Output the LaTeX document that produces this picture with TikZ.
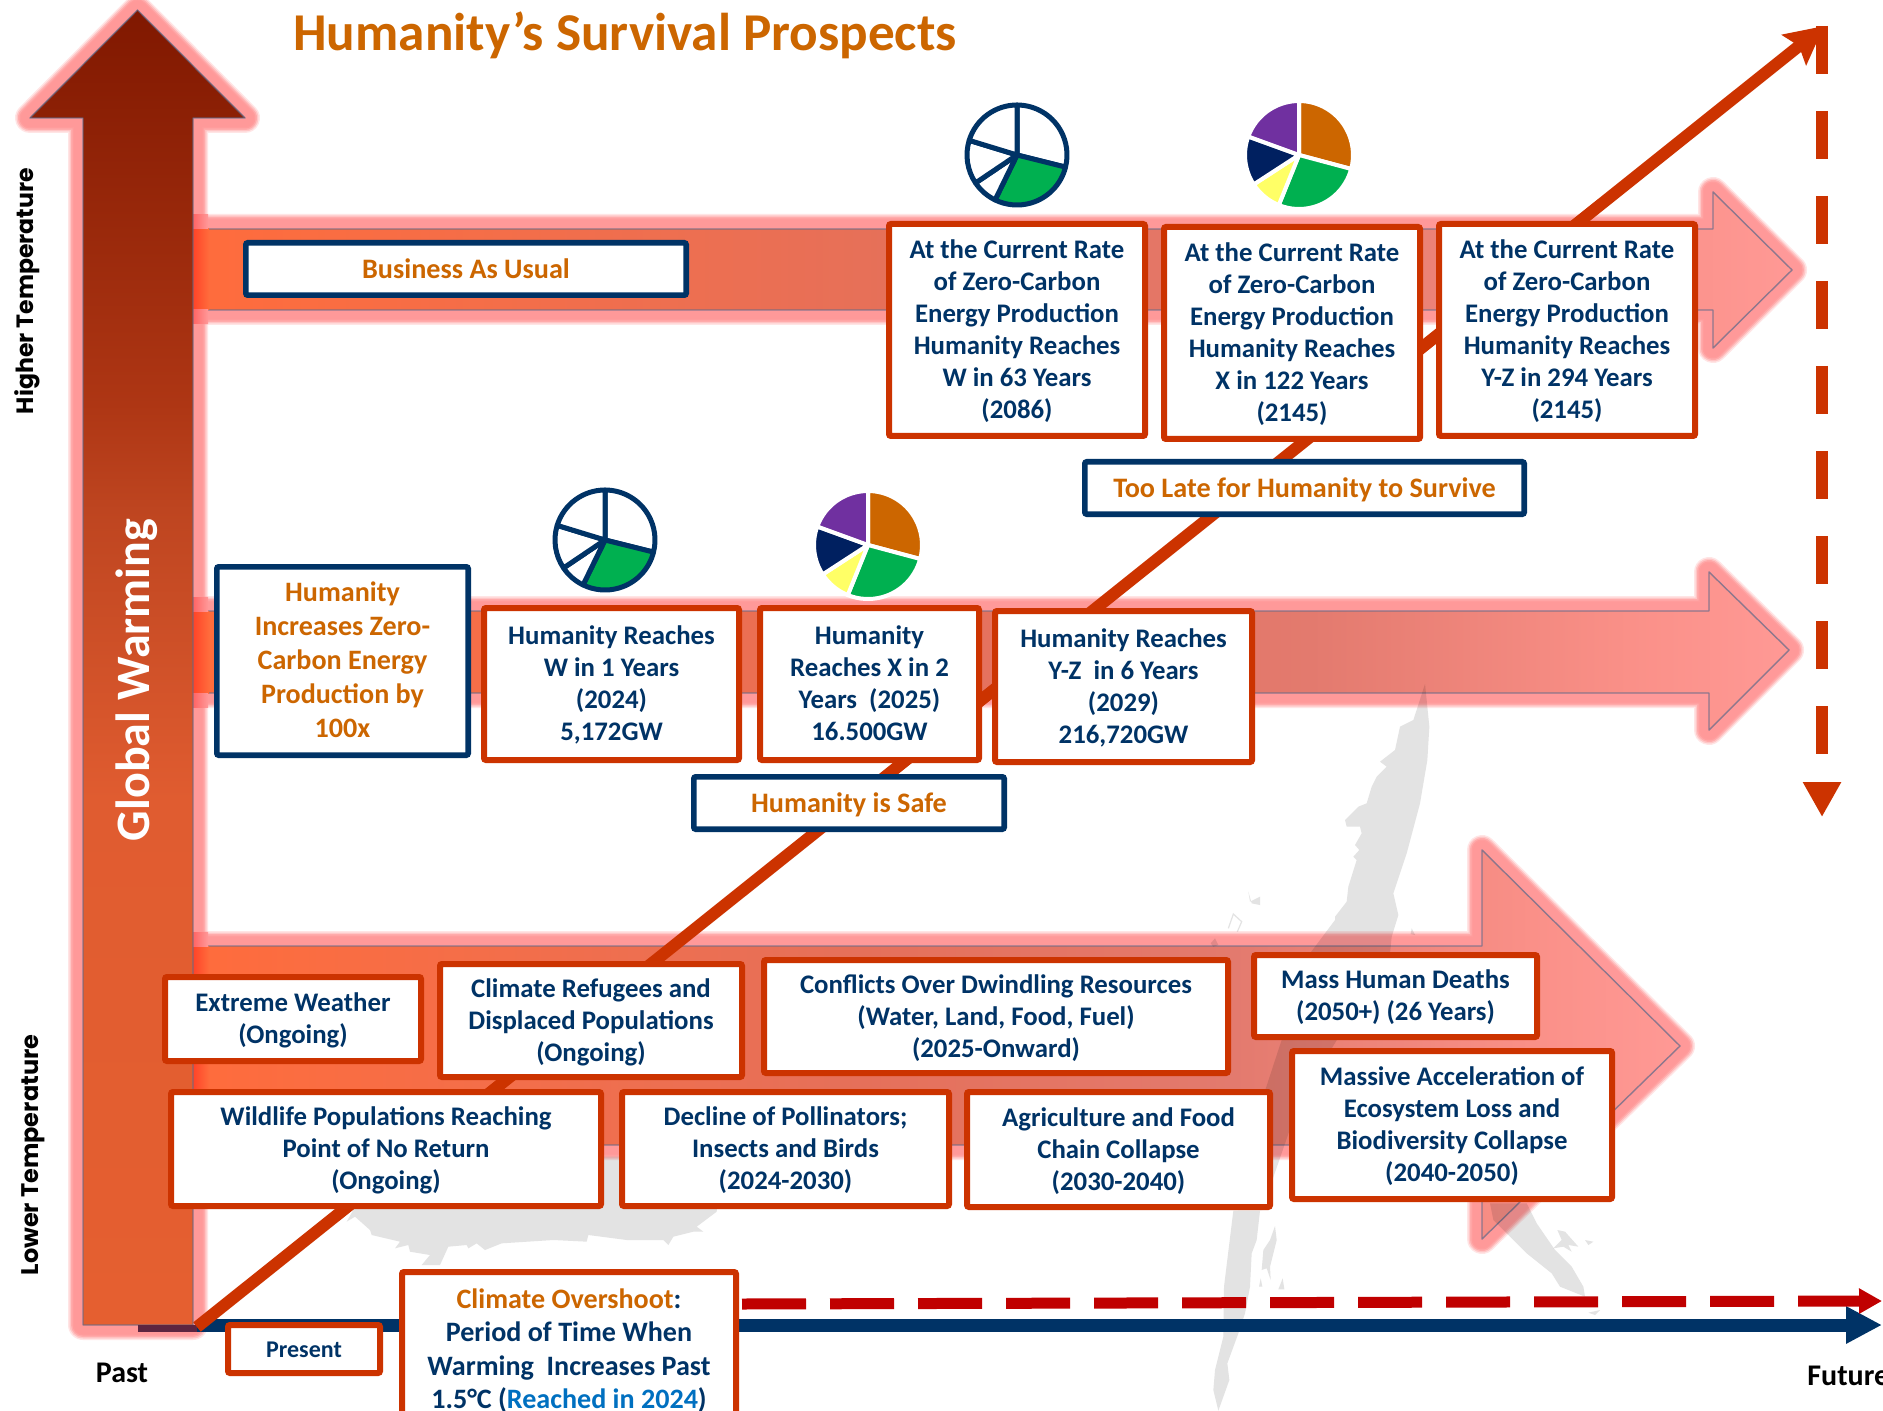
\documentclass[tikz,border=0pt]{standalone}
\usepackage{fontspec}
\setmainfont{Carlito}
\newfontfamily\widefont{Poppins}
\usetikzlibrary{arrows.meta}
\definecolor{navy}{HTML}{003366}
\definecolor{rust}{HTML}{CC3300}
\definecolor{ochre}{HTML}{CC6600}
\definecolor{skyb}{HTML}{0070C0}
\definecolor{glowc}{HTML}{FF9999}
\definecolor{mapg}{HTML}{E3E3E3}
\definecolor{edgec}{HTML}{5F6A8A}
\definecolor{pgreen}{HTML}{00B050}
\definecolor{pyellow}{HTML}{FFFF66}
\definecolor{pnavy}{HTML}{002060}
\definecolor{ppurple}{HTML}{7030A0}
\definecolor{darkred}{HTML}{C00000}
\definecolor{stripc}{HTML}{5C2540}
\definecolor{ha}{HTML}{FF6C3C}
\definecolor{hb}{HTML}{E5705A}
\definecolor{hc}{HTML}{E37A6E}
\definecolor{hd}{HTML}{FA9088}
\definecolor{he}{HTML}{FF9995}
\definecolor{va}{HTML}{E55F30}
\definecolor{vb}{HTML}{E05C30}
\definecolor{vc}{HTML}{BE4520}
\definecolor{vd}{HTML}{AE3614}
\definecolor{ve}{HTML}{801800}
\definecolor{crossa}{HTML}{FF4428}
\definecolor{crossb}{HTML}{FF6464}
\pgfdeclarehorizontalshading{hbar}{100bp}{color(0bp)=(ha);color(25bp)=(ha);color(47.5bp)=(hb);color(60bp)=(hc);color(70bp)=(hd);color(75bp)=(he);color(100bp)=(he)}
\pgfdeclareverticalshading{vbar}{100bp}{color(0bp)=(va);color(25bp)=(va);color(45bp)=(vb);color(56bp)=(vc);color(60bp)=(vd);color(75bp)=(ve);color(100bp)=(ve)}
\tikzset{
  redbox/.style={draw=rust,fill=white,line width=3pt,rounded corners=1pt,align=center,inner sep=0pt,text=navy,font=\bfseries\fontsize{13.4}{16}\selectfont},
  navybox/.style={draw=navy,fill=white,line width=2.8pt,rounded corners=1pt,align=center,inner sep=0pt,text=ochre,font=\bfseries\fontsize{14.1}{16}\selectfont},
  bigtext/.style={font=\bfseries\fontsize{14.05}{17}\selectfont},
  overtext/.style={font=\bfseries\fontsize{14.05}{16.75}\selectfont},
  smalltext/.style={font=\bfseries\fontsize{12}{14}\selectfont},
  plainlabel/.style={inner sep=0pt,font=\bfseries\fontsize{15}{18}\selectfont,text=black},
  edgeline/.style={draw=edgec,line width=.7pt,opacity=.7,line join=round},
  mapfill/.style={fill=mapg,draw=none},
  diag/.style={draw=rust,line width=6pt,-{Stealth[length=19pt,width=19pt,inset=3pt]}},
}
\newcommand{\glowlayers}[1]{%
  \draw[glowc,line width=15pt,opacity=.25,line join=round] #1;
  \draw[glowc,line width=13.5pt,opacity=.4,line join=round] #1;
  \draw[glowc,line width=12pt,opacity=.6,line join=round] #1;
  \draw[glowc,line width=10.5pt,opacity=.8,line join=round] #1;
  \draw[glowc,line width=9pt,line join=round] #1;
}
% red strip where the glow of the upright arrow lies over a horizontal arrow (top, bottom)
\newcommand{\crossing}[2]{%
  \shade[left color=crossa,right color=ha] (193,#1) rectangle (209,#2);
}
\newcommand{\crossglow}[2]{%
  \shade[left color=crossb,right color=glowc] (193,#1) rectangle (208,#2);
}
% name, style, line width in pt, x1,y1,x2,y2 (outer edges, px), text
\newcommand{\bx}[8]{%
  \pgfmathsetmacro\bxcx{(#4+#6)/2}%
  \pgfmathsetmacro\bxcy{(#5+#7)/2}%
  \pgfmathsetmacro\bxw{(#6-#4)*0.5-#3}%
  \pgfmathsetmacro\bxh{(#7-#5)*0.5-#3}%
  \node[#2,minimum width=\bxw pt,minimum height=\bxh pt] (#1) at (\bxcx,\bxcy) {\rule{0pt}{11.5pt}#8\rule[-3pt]{0pt}{3pt}};%
}
\newcommand{\slice}[5]{% radius, a1, a2, fill, draw
  \filldraw[fill=#4,draw=#5,line join=round] (0,0) -- (#2:#1) arc[start angle=#2,end angle=#3,radius=#1] -- cycle;
}
\newcommand{\outlinepie}[2]{%
  \begin{scope}[shift={(#1,#2)},x=0.5pt,y=0.5pt,line width=2.5pt]
    \slice{50}{90}{-14}{white}{navy}
    \slice{50}{-14}{-116}{pgreen}{navy}
    \slice{50}{-116}{-146}{white}{navy}
    \slice{50}{-146}{-197}{white}{navy}
    \slice{50}{-197}{-270}{white}{navy}
  \end{scope}
}
\newcommand{\colorpie}[2]{%
  \begin{scope}[shift={(#1,#2)},x=0.5pt,y=0.5pt,line width=2pt]
    \slice{54}{90}{-15}{ochre}{white}
    \slice{54}{-15}{-112}{pgreen}{white}
    \slice{54}{-112}{-147}{pyellow}{white}
    \slice{54}{-147}{-200}{pnavy}{white}
    \slice{54}{-200}{-270}{ppurple}{white}
  \end{scope}
}
\begin{document}
\begin{tikzpicture}[x=0.5pt,y=-0.5pt]
\useasboundingbox (0,0) rectangle (1883,1411);
\clip (0,0) rectangle (1883,1411);
\fill[white] (0,0) rectangle (1883,1411);
% arrow outlines
\def\arrV{(137.5,10)--(245,118)--(193,118)--(193,1325)--(83,1325)--(83,118)--(30,118)--cycle}
\def\arrA{(193,229)--(1713,229)--(1713,192)--(1792,270)--(1713,348)--(1713,310)--(193,310)--cycle}
\def\arrB{(193,611)--(1709,611)--(1709,572)--(1789,650)--(1709,730)--(1709,693)--(193,693)--cycle}
\def\arrC{(193,946)--(1482,946)--(1482,850)--(1680,1046)--(1482,1239)--(1482,1145)--(193,1145)--cycle}
\glowlayers{\arrV}
\glowlayers{\arrA}\shade[shading=hbar] \arrA; \draw[edgeline] \arrA;
\glowlayers{\arrB}\shade[shading=hbar] \arrB; \draw[edgeline] \arrB;
\glowlayers{\arrC}\shade[shading=hbar] \arrC; \draw[edgeline] \arrC;
\crossing{229}{310}\crossglow{215}{229}\crossglow{310}{324}
\crossing{611}{693}\crossglow{597}{611}\crossglow{693}{707}
\crossing{946}{1145}\crossglow{932}{946}\crossglow{1145}{1159}
% map
\begin{scope}[blend mode=multiply]
  \begin{scope}[shift={(1150,660)},x=0.16667pt,y=-0.16667pt]
    \fill[mapfill] (825,72)--(838,200)--(832,300)--(810,430)--(770,580)--(730,700)--(745,765)--(725,830)--(720,880)--(450,1320)--(336,1650)--(264,1650)--(336,1320)--(480,880)--(555,780)--(555,770)--(590,725)--(595,680)--(620,600)--(610,590)--(628,570)--(615,555)--(635,520)--(630,500)--(590,500)--(585,480)--(625,440)--(650,430)--(665,380)--(680,350)--(710,320)--(690,305)--(735,270)--(750,200)--(790,180)--cycle;
    \fill[mapfill] (295,695)--(300,725)--(330,710)--(330,735)--(305,730)--cycle;
    \fill[mapfill] (785,805)--(795,825)--(782,822)--cycle;
    \draw[mapg,line width=.6pt] (235,805)--(250,762)--(275,785)--(262,815);
    \fill[mapfill] (182,850)--(195,835)--(205,855)--(190,860)--cycle;
  \end{scope}
  \begin{scope}[shift={(1150,1190)},x=0.16667pt,y=-0.16667pt]
    \fill[mapfill] (330,62)--(320,150)--(305,190)--(300,290)--(285,370)--(265,430)--(232,520)--(238,570)--(205,662)--(190,600)--(195,540)--(220,440)--(222,290)--(250,62)--cycle;
    \fill[mapfill] (375,108)--(380,150)--(360,230)--(362,270)--(350,235)--(335,240)--(340,180)--(360,150)--cycle;
    \fill[mapfill] (327,290)--(332,265)--(337,290)--cycle;
    \fill[mapfill] (385,298)--(398,265)--(403,298)--cycle;
    \fill[mapfill] (1020,40)--(1130,40)--(1160,100)--(1215,180)--(1265,230)--(1300,290)--(1305,320)--(1230,290)--(1205,250)--(1130,190)--(1080,140)--(1030,90)--cycle;
    \fill[mapfill] (1222,120)--(1245,125)--(1285,170)--(1255,165)--(1265,185)--(1240,170)--(1210,175)--(1235,150)--cycle;
    \fill[mapfill] (1305,150)--(1330,155)--(1315,165)--cycle;
    \fill[mapfill] (1315,368)--(1350,360)--(1335,375)--cycle;
  \end{scope}
  \begin{scope}[shift={(320,1190)},x=0.16667pt,y=-0.16667pt]
    \fill[mapfill] (100,-100)--(100,60)--(80,95)--(105,80)--(150,120)--(155,135)--(240,155)--(225,175)--(265,165)--(270,185)--(330,195)--(305,225)--(360,225)--(385,170)--(440,165)--(445,175)--(470,160)--(495,180)--(545,160)--(700,150)--(800,155)--(805,135)--(920,150)--(1030,150)--(1045,165)--(1060,140)--(1120,125)--(1150,125)--(1130,110)--(1190,65)--(1200,-100)--cycle;
  \end{scope}
\end{scope}
% timeline
\coordinate (tlstart) at (197,1325);
\coordinate (tlend) at (1882,1325);
\draw[navy,line width=6.5pt,-{Triangle[length=18pt,width=17.5pt]}] (tlstart) -- (tlend);
\coordinate (rdstart) at (742,1304);
\coordinate (rdend) at (1882,1301);
\draw[darkred,line width=5.5pt,dash pattern=on 32pt off 12pt,-{Triangle[length=11.5pt,width=12pt]}] (rdstart) -- (rdend);
% vertical arrow body
\shade[shading=vbar] \arrV;
\draw[edgeline] \arrV;
\fill[stripc] (138,1325) rectangle (197,1332);
% diagonal and dashed arrows
\coordinate (diagS) at (197,1327);
\coordinate (diagE) at (1824,26);
\draw[diag] (diagS) -- (diagE);
\coordinate (vdS) at (1822,26);
\coordinate (vdE) at (1822,817);
\draw[rust,line width=6pt,dash pattern=on 24pt off 18.5pt,-{Triangle[length=17.5pt,width=18pt]}] (vdS) -- (vdE);
% pies
\outlinepie{1017}{155}
\colorpie{1299}{155}
\outlinepie{605}{540}
\colorpie{868}{545}
% title and labels
\node[anchor=west,inner sep=0pt,text=ochre,font=\bfseries\fontsize{26.6}{30}\selectfont] (title) at (293,35) {Humanity’s Survival Prospects};
\node[rotate=90,inner sep=0pt,text=white,font=\bfseries\fontsize{24}{30}\selectfont] (gw) at (137,680) {Global Warming};
\node[rotate=90,inner sep=0pt,text=black,font=\widefont\bfseries\fontsize{11.8}{13}\selectfont] (hi) at (27,291) {Higher Temperature};
\node[rotate=90,inner sep=0pt,text=black,font=\widefont\bfseries\fontsize{12}{13}\selectfont] (lo) at (33,1155) {Lower Temperature};
\node[plainlabel] (past) at (122,1373) {Past};
\node[plainlabel,anchor=west] (future) at (1807,1376) {Future};
% boxes
\bx{bau}{navybox}{2.8}{243}{240}{689}{298}{\rule{0pt}{12.7pt}Business As Usual}
\bx{ra}{redbox}{3}{886}{221}{1148}{439}{At the Current Rate\\of Zero-Carbon\\Energy Production\\Humanity Reaches\\W in 63 Years\\(2086)}
\bx{rb}{redbox}{3}{1161}{224}{1423}{442}{At the Current Rate\\of Zero-Carbon\\Energy Production\\Humanity Reaches\\X in 122 Years\\(2145)}
\bx{rc}{redbox}{3}{1436}{221}{1698}{439}{At the Current Rate\\of Zero-Carbon\\Energy Production\\Humanity Reaches\\Y-Z in 294 Years\\(2145)}
\bx{late}{navybox}{2.8}{1082}{459}{1527}{517}{\rule{0pt}{12.7pt}Too Late for Humanity to Survive}
\bx{inc}{navybox,bigtext}{2.8}{214}{564}{471}{758}{Humanity\\Increases Zero-\\Carbon Energy\\Production by\\100x}
\bx{ha}{redbox}{3}{481}{605}{742}{763}{Humanity Reaches\\W in 1 Years\\(2024)\\5,172GW}
\bx{hb}{redbox}{3}{757}{605}{982}{763}{Humanity\\Reaches X in 2\\Years~ (2025)\\16.500GW}
\bx{hc}{redbox}{3}{992}{608}{1255}{765}{Humanity Reaches\\Y-Z~ in 6 Years\\(2029)\\216,720GW}
\bx{safe}{navybox}{2.8}{691}{774}{1007}{832}{\rule{0pt}{12.7pt}Humanity is Safe}
\bx{ew}{redbox}{3}{162}{974}{424}{1064}{Extreme Weather\\(Ongoing)}
\bx{cr}{redbox}{3}{437}{961}{745}{1080}{Climate Refugees and\\Displaced Populations\\(Ongoing)}
\bx{cf}{redbox}{3}{761}{957}{1231}{1076}{Conflicts Over Dwindling Resources\\(Water, Land, Food, Fuel)\\(2025-Onward)}
\bx{md}{redbox}{3}{1251}{952}{1540}{1040}{Mass Human Deaths\\(2050+) (26 Years)}
\bx{ma}{redbox}{3}{1289}{1048}{1615}{1202}{Massive Acceleration of\\Ecosystem Loss and\\Biodiversity Collapse\\(2040-2050)}
\bx{wl}{redbox}{3}{168}{1089}{604}{1209}{Wildlife Populations Reaching\\Point of No Return\\(Ongoing)}
\bx{dp}{redbox}{3}{619}{1089}{952}{1209}{Decline of Pollinators;\\Insects and Birds\\(2024-2030)}
\bx{ag}{redbox}{3}{964}{1089}{1273}{1210}{Agriculture and Food\\Chain Collapse\\(2030-2040)}
\bx{pr}{redbox,smalltext}{3}{225}{1322}{383}{1376}{Present}
\bx{co}{redbox,overtext}{3}{399}{1269}{739}{1431}{\textcolor{ochre}{Climate Overshoot}:\\Period of Time When\\Warming~ Increases Past\\1.5°C (\textcolor{skyb}{Reached in 2024})}
\end{tikzpicture}
\end{document}
